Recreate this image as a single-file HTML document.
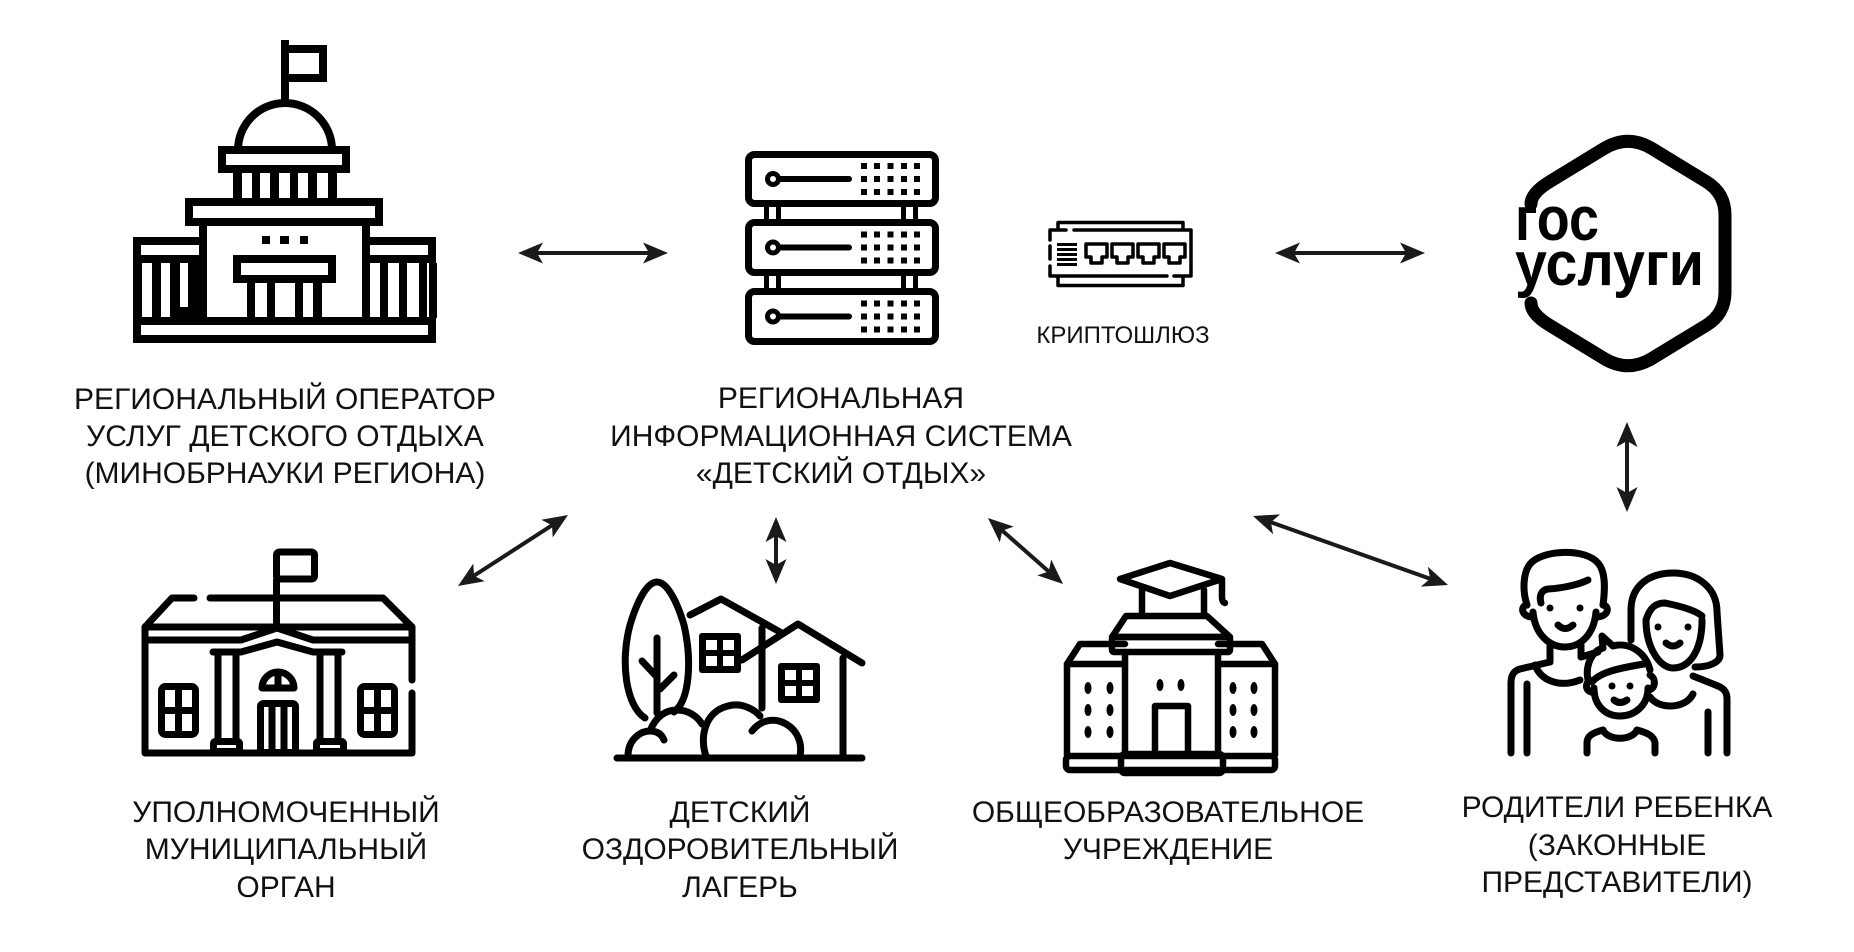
<!DOCTYPE html>
<html><head><meta charset="utf-8"><style>
html,body{margin:0;padding:0;background:#fff;}
svg{display:block;}
text{font-family:"Liberation Sans",Arial,sans-serif;fill:#111;}
</style></head><body>
<svg width="1854" height="952" viewBox="0 0 1854 952" xmlns="http://www.w3.org/2000/svg">
<rect width="1854" height="952" fill="#fff"/>

<!-- ===== Capitol (regional operator) ===== -->
<g fill="#000">
  <rect x="281" y="40" width="8" height="60"/>
  <rect x="285" y="49" width="38" height="29" fill="none" stroke="#000" stroke-width="8"/>
  <path d="M238,150 A47,47 0 0 1 332,150" fill="none" stroke="#000" stroke-width="8"/>
  <rect x="222" y="150" width="124" height="19" fill="none" stroke="#000" stroke-width="8"/>
  <rect x="233" y="173" width="9" height="25"/>
  <rect x="252" y="173" width="8" height="25"/>
  <rect x="270" y="173" width="9" height="25"/>
  <rect x="290" y="173" width="8" height="25"/>
  <rect x="308" y="173" width="9" height="25"/>
  <rect x="328" y="173" width="9" height="25"/>
  <rect x="189" y="202" width="190" height="20" fill="none" stroke="#000" stroke-width="8"/>
  <rect x="199" y="225" width="8" height="93"/>
  <rect x="362" y="225" width="8" height="93"/>
  <rect x="137" y="241" width="66" height="18" fill="none" stroke="#000" stroke-width="8"/>
  <rect x="366" y="241" width="66" height="18" fill="none" stroke="#000" stroke-width="8"/>
  <rect x="133" y="263" width="9" height="55"/>
  <rect x="152" y="263" width="9" height="55"/>
  <rect x="170" y="263" width="10" height="55"/>
  <rect x="188" y="263" width="12" height="55"/>
  <rect x="170" y="307" width="30" height="11"/>
  <rect x="380" y="263" width="8" height="55"/>
  <rect x="399" y="263" width="8" height="55"/>
  <rect x="419" y="263" width="8" height="55"/>
  <rect x="429" y="263" width="8" height="55"/>
  <rect x="137" y="321" width="295" height="18" fill="none" stroke="#000" stroke-width="8"/>
  <rect x="262" y="236" width="8" height="8"/>
  <rect x="280" y="236" width="9" height="8"/>
  <rect x="300" y="236" width="8" height="8"/>
  <rect x="237" y="259" width="95" height="20" fill="none" stroke="#000" stroke-width="8"/>
  <rect x="247" y="283" width="8" height="35"/>
  <rect x="267" y="283" width="8" height="35"/>
  <rect x="295" y="283" width="8" height="35"/>
  <rect x="313" y="283" width="9" height="35"/>
</g>

<!-- ===== Server rack ===== -->
<g stroke="#000" stroke-width="7" fill="none">
  <rect x="748.5" y="154.5" width="187" height="49" rx="6"/>
  <rect x="748.5" y="222.5" width="187" height="50" rx="6"/>
  <rect x="748.5" y="291.5" width="187" height="50" rx="6"/>
</g>
<g fill="#000">
  <rect x="764" y="206" width="5" height="14"/><rect x="776" y="206" width="5" height="14"/>
  <rect x="901" y="206" width="5" height="14"/><rect x="913" y="206" width="5" height="14"/>
  <rect x="764" y="275" width="5" height="14"/><rect x="776" y="275" width="5" height="14"/>
  <rect x="901" y="275" width="5" height="14"/><rect x="913" y="275" width="5" height="14"/>
</g>
<g stroke="#000" stroke-width="5" fill="none">
  <circle cx="773" cy="179" r="5.5"/><circle cx="773" cy="247.5" r="5.5"/><circle cx="773" cy="316.5" r="5.5"/>
</g>
<g stroke="#000" stroke-width="6" stroke-linecap="round">
  <line x1="779" y1="179" x2="849" y2="179"/>
  <line x1="779" y1="247.5" x2="849" y2="247.5"/>
  <line x1="779" y1="316.5" x2="849" y2="316.5"/>
</g>
<g fill="#000">
  <rect x="861" y="163" width="6" height="6"/><rect x="874" y="163" width="6" height="6"/><rect x="887.5" y="163" width="6" height="6"/><rect x="901" y="163" width="6" height="6"/><rect x="914" y="163" width="6" height="6"/>
  <rect x="861" y="176" width="6" height="6"/><rect x="874" y="176" width="6" height="6"/><rect x="887.5" y="176" width="6" height="6"/><rect x="901" y="176" width="6" height="6"/><rect x="914" y="176" width="6" height="6"/>
  <rect x="861" y="189" width="6" height="6"/><rect x="874" y="189" width="6" height="6"/><rect x="887.5" y="189" width="6" height="6"/><rect x="901" y="189" width="6" height="6"/><rect x="914" y="189" width="6" height="6"/>
</g>
<g fill="#000" transform="translate(0,68.5)">
  <rect x="861" y="163" width="6" height="6"/><rect x="874" y="163" width="6" height="6"/><rect x="887.5" y="163" width="6" height="6"/><rect x="901" y="163" width="6" height="6"/><rect x="914" y="163" width="6" height="6"/>
  <rect x="861" y="176" width="6" height="6"/><rect x="874" y="176" width="6" height="6"/><rect x="887.5" y="176" width="6" height="6"/><rect x="901" y="176" width="6" height="6"/><rect x="914" y="176" width="6" height="6"/>
  <rect x="861" y="189" width="6" height="6"/><rect x="874" y="189" width="6" height="6"/><rect x="887.5" y="189" width="6" height="6"/><rect x="901" y="189" width="6" height="6"/><rect x="914" y="189" width="6" height="6"/>
</g>
<g fill="#000" transform="translate(0,137.5)">
  <rect x="861" y="163" width="6" height="6"/><rect x="874" y="163" width="6" height="6"/><rect x="887.5" y="163" width="6" height="6"/><rect x="901" y="163" width="6" height="6"/><rect x="914" y="163" width="6" height="6"/>
  <rect x="861" y="176" width="6" height="6"/><rect x="874" y="176" width="6" height="6"/><rect x="887.5" y="176" width="6" height="6"/><rect x="901" y="176" width="6" height="6"/><rect x="914" y="176" width="6" height="6"/>
  <rect x="861" y="189" width="6" height="6"/><rect x="874" y="189" width="6" height="6"/><rect x="887.5" y="189" width="6" height="6"/><rect x="901" y="189" width="6" height="6"/><rect x="914" y="189" width="6" height="6"/>
</g>

<!-- ===== Crypto gateway ===== -->
<g stroke="#000" stroke-width="3.5" fill="none" stroke-linecap="round" stroke-linejoin="round">
  <path d="M1058,229 V222.5 H1183 V229"/>
  <path d="M1050,240 V230 H1066 M1074,230 H1191 V276 H1174 M1167,276 H1050 V266 M1050,259 V246"/>
  <path d="M1058,278 V285.5 H1183 V278"/>
  <path d="M1086,244 h21 v13 h-5 v6 h-11 v-6 h-5 z"/>
  <path d="M1112,244 h21 v13 h-5 v6 h-11 v-6 h-5 z"/>
  <path d="M1138,244 h21 v13 h-5 v6 h-11 v-6 h-5 z"/>
  <path d="M1164,244 h21 v13 h-5 v6 h-11 v-6 h-5 z"/>
</g>
<g fill="#000">
  <rect x="1057" y="243" width="20" height="3"/>
  <rect x="1057" y="248" width="20" height="3"/>
  <rect x="1057" y="253" width="20" height="3"/>
  <rect x="1057" y="258" width="20" height="3"/>
  <rect x="1057" y="263" width="20" height="3"/>
</g>

<!-- ===== Gosuslugi logo ===== -->
<path d="M1531,204 Q1531,193 1550,181.5 L1604,148.6 Q1628,134 1652,148.6 L1706,181.5 Q1725,193 1725,215 L1725,292 Q1725,314 1706,325.5 L1652,358.4 Q1628,373 1604,358.4 L1550,325.5 Q1531,314 1531,303" fill="none" stroke="#000" stroke-width="13" stroke-linecap="round"/>
<text x="1515" y="240" font-size="62" font-weight="bold" style="fill:#000" textLength="84" lengthAdjust="spacingAndGlyphs">гос</text>
<text x="1515" y="285" font-size="62" font-weight="bold" style="fill:#000" textLength="189" lengthAdjust="spacingAndGlyphs">услуги</text>

<!-- ===== Municipal building ===== -->
<g stroke="#000" stroke-width="7" fill="none" stroke-linecap="round" stroke-linejoin="round">
  <rect x="276.5" y="552" width="38" height="27" rx="3"/>
  <line x1="276.5" y1="580" x2="276.5" y2="627"/>
  <path d="M145,627 L172,598 L194,598"/>
  <path d="M210,598 L383,598 L412,627"/>
  <path d="M412,680 V627 H145 V753 H412 V693"/>
  <path d="M145,640 H241 L277,628 L313,640 H412"/>
  <path d="M213,652 H241 L277,642 L313,652 H342"/>
  <line x1="218" y1="654" x2="218" y2="739"/>
  <line x1="236" y1="654" x2="236" y2="739"/>
  <line x1="320" y1="654" x2="320" y2="739"/>
  <line x1="338" y1="654" x2="338" y2="739"/>
  <rect x="213.5" y="741.5" width="26" height="10" rx="2"/>
  <rect x="316.5" y="741.5" width="27" height="10" rx="2"/>
  <rect x="260.5" y="703.5" width="35" height="49" rx="3"/>
  <line x1="272" y1="706" x2="272" y2="752"/>
  <line x1="284" y1="706" x2="284" y2="752"/>
  <path d="M262,688 A16,16 0 0 1 294,688 Z"/>
  <line x1="278" y1="672" x2="278" y2="688"/>
  <rect x="161.5" y="686.5" width="34" height="48" rx="4"/>
  <line x1="178.5" y1="688" x2="178.5" y2="733"/>
  <line x1="163" y1="710.5" x2="194" y2="710.5"/>
  <rect x="360.5" y="686.5" width="34" height="48" rx="4"/>
  <line x1="377.5" y1="688" x2="377.5" y2="733"/>
  <line x1="362" y1="710.5" x2="393" y2="710.5"/>
</g>

<!-- ===== Camp ===== -->
<g stroke="#000" stroke-width="7" fill="none" stroke-linecap="round" stroke-linejoin="round">
  <path d="M645,718 C626,706 620,662 630,625 C638,598 648,582 657,582 C666,582 676,598 684,625 C692,660 690,700 674,712"/>
  <line x1="657" y1="638" x2="657" y2="713"/>
  <line x1="642" y1="661" x2="657" y2="677"/>
  <line x1="674" y1="675" x2="660" y2="689"/>
  <path d="M690,615 L721,599 L780,632"/>
  <path d="M742,660 L798,624 L862,663"/>
  <line x1="762" y1="628" x2="762" y2="708"/>
  <line x1="843" y1="658" x2="843" y2="756"/>
  <path d="M628,756 C628,740 640,731 650,731 C658,731 662,735 664,740"/>
  <path d="M650,731 C656,716 666,710 677,710 C688,710 697,716 702,724"/>
  <path d="M706,756 C700,740 703,712 728,706 C742,702 755,710 760,716"/>
  <path d="M752,731 C760,721 770,719 779,721 C795,726 803,740 800,756"/>
  <line x1="617" y1="758" x2="862" y2="758"/>
</g>
<g fill="#000">
  <rect x="699" y="633" width="42" height="40" rx="3"/>
  <rect x="778" y="663" width="42" height="40" rx="3"/>
</g>
<g fill="#fff">
  <rect x="706" y="640" width="11" height="10"/><rect x="723" y="640" width="11" height="10"/>
  <rect x="706" y="656" width="11" height="10"/><rect x="723" y="656" width="11" height="10"/>
  <rect x="785" y="670" width="11" height="10"/><rect x="802" y="670" width="11" height="10"/>
  <rect x="785" y="686" width="11" height="10"/><rect x="802" y="686" width="11" height="10"/>
</g>

<!-- ===== School ===== -->
<g stroke="#000" stroke-width="6.5" fill="none" stroke-linecap="round" stroke-linejoin="round">
  <path d="M1170,563 L1222,579 L1170,596 L1120,579 Z"/>
  <path d="M1222,580 L1222,597 Q1222,602 1225,603"/>
  <line x1="1142" y1="590" x2="1142" y2="615"/>
  <line x1="1204" y1="590" x2="1204" y2="615"/>
  <path d="M1126,616 H1207 L1230,637 H1112 Z"/>
  <rect x="1112" y="637" width="118" height="15" rx="2"/>
  <line x1="1125" y1="652" x2="1125" y2="753"/>
  <line x1="1218" y1="652" x2="1218" y2="753"/>
  <path d="M1125,644 H1080 L1067,664 V755"/>
  <line x1="1067" y1="664" x2="1125" y2="664"/>
  <path d="M1218,644 H1262 L1275,664 V755"/>
  <line x1="1218" y1="664" x2="1275" y2="664"/>
  <rect x="1066" y="756" width="209" height="14" rx="4"/>
  <rect x="1121" y="754" width="102" height="19" rx="4"/>
  <path d="M1155,752 V706 H1188 V752"/>
</g>
<g fill="#000">
  <ellipse cx="1088" cy="688" rx="3.5" ry="6"/><ellipse cx="1110" cy="688" rx="3.5" ry="6"/>
  <ellipse cx="1088" cy="710" rx="3.5" ry="6"/><ellipse cx="1110" cy="710" rx="3.5" ry="6"/>
  <ellipse cx="1088" cy="732" rx="3.5" ry="6"/><ellipse cx="1110" cy="732" rx="3.5" ry="6"/>
  <ellipse cx="1233" cy="688" rx="3.5" ry="6"/><ellipse cx="1254" cy="688" rx="3.5" ry="6"/>
  <ellipse cx="1233" cy="710" rx="3.5" ry="6"/><ellipse cx="1254" cy="710" rx="3.5" ry="6"/>
  <ellipse cx="1233" cy="732" rx="3.5" ry="6"/><ellipse cx="1254" cy="732" rx="3.5" ry="6"/>
  <ellipse cx="1160" cy="685" rx="3.5" ry="6"/><ellipse cx="1181" cy="685" rx="3.5" ry="6"/>
</g>

<!-- ===== Family ===== -->
<g stroke="#000" stroke-width="7" fill="none" stroke-linecap="round" stroke-linejoin="round">
  <path d="M1527,605 C1522,590 1523,570 1532,562 C1545,550 1585,548 1598,563 C1606,572 1605,590 1603,605"/>
  <path d="M1541,603 C1539,596 1541,590 1548,589 C1565,588 1580,584 1588,580"/>
  <path d="M1533,612 C1535,635 1550,647 1565,647 C1580,647 1594,635 1596,612"/>
  <path d="M1527,605 C1520,606 1521,617 1533,617"/>
  <path d="M1603,605 C1610,606 1609,617 1596,617"/>
  <path d="M1558,625 Q1565,632 1573,625"/>
  <path d="M1550,645 V662 L1520,669 C1513,671 1511,676 1511,683 V753"/>
  <line x1="1527" y1="684" x2="1527" y2="753"/>
  <path d="M1535,665 C1541,681 1560,688 1580,680"/>
  <path d="M1581,645 V657 L1598,652"/>
  <path d="M1631,640 V610 C1631,585 1650,573 1673,573 C1698,573 1717,588 1717,612 L1720,655 C1720,662 1710,667 1695,667"/>
  <path d="M1646,620 C1650,607 1656,603 1665,603 C1680,606 1695,610 1702,616"/>
  <path d="M1646,620 C1646,648 1660,668 1673,668 C1690,668 1702,650 1702,620"/>
  <path d="M1666,643 Q1673,649 1680,643"/>
  <path d="M1693,676 L1718,686 C1725,689 1727,693 1727,699 V753"/>
  <line x1="1708" y1="712" x2="1708" y2="753"/>
  <path d="M1650,697 C1658,709 1685,710 1693,694"/>
  <path d="M1588,680 C1585,665 1592,651 1603,648 L1602,636 L1613,646 C1627,642 1645,650 1650,670"/>
  <path d="M1592,682 C1600,672 1620,668 1644,664"/>
  <path d="M1594,688 C1594,706 1606,716 1620,716 C1634,716 1648,706 1648,688"/>
  <path d="M1590,680 C1584,684 1586,693 1594,692"/>
  <path d="M1650,675 C1657,679 1655,690 1648,690"/>
  <path d="M1614,700 Q1620,705 1627,700"/>
  <path d="M1587,753 V743 C1587,736 1592,733 1603,730"/>
  <path d="M1637,730 C1648,733 1654,736 1655,743 V753"/>
  <path d="M1603,730 C1608,741 1632,741 1637,730"/>
</g>
<g fill="#000">
  <circle cx="1550" cy="608" r="3.5"/><circle cx="1580" cy="608" r="3.5"/>
  <circle cx="1658" cy="627" r="3.5"/><circle cx="1688" cy="627" r="3.5"/>
  <circle cx="1612" cy="686" r="3.5"/><circle cx="1630" cy="686" r="3.5"/>
</g>

<!-- ===== Arrows ===== -->
<g stroke="#1a1a1a" stroke-width="4" fill="none">
  <line x1="535" y1="253" x2="651" y2="253"/>
  <line x1="1292" y1="253" x2="1408" y2="253"/>
  <line x1="1627" y1="438" x2="1627" y2="496"/>
  <line x1="776" y1="533" x2="776" y2="568"/>
  <line x1="474" y1="575.7" x2="552" y2="525.3"/>
  <line x1="1002.3" y1="530.6" x2="1048.7" y2="571.5"/>
  <line x1="1270.9" y1="522.3" x2="1430.1" y2="578.7"/>
</g>
<g fill="#1a1a1a">
  <polygon points="668,253 643,242.5 649,253 643,263.5"/>
  <polygon points="518,253 543,242.5 537,253 543,263.5"/>
  <polygon points="1425,253 1400,242.5 1406,253 1400,263.5"/>
  <polygon points="1275,253 1300,242.5 1294,253 1300,263.5"/>
  <polygon points="1627,422 1616.5,447 1627,441 1637.5,447"/>
  <polygon points="1627,512 1616.5,487 1627,493 1637.5,487"/>
  <polygon points="776,517 765.5,542 776,536 786.5,542"/>
  <polygon points="776,584 765.5,559 776,565 786.5,559"/>
  <polygon points="568,515 552.7,537.4 552.0,525.3 541.3,519.7"/>
  <polygon points="458,586 473.3,563.6 474.0,575.7 484.7,581.3"/>
  <polygon points="1063,584 1037.3,575.4 1048.7,571.5 1051.2,559.6"/>
  <polygon points="988,518 1013.7,526.6 1002.3,530.6 999.8,542.4"/>
  <polygon points="1448,585 1420.9,586.6 1430.1,578.7 1427.9,566.8"/>
  <polygon points="1253,516 1280.1,514.4 1270.9,522.3 1273.1,534.2"/>
</g>

<!-- ===== Labels ===== -->
<g font-size="30" text-anchor="middle">
  <text x="285" y="409">РЕГИОНАЛЬНЫЙ ОПЕРАТОР</text>
  <text x="285" y="446">УСЛУГ ДЕТСКОГО ОТДЫХА</text>
  <text x="285" y="483">(МИНОБРНАУКИ РЕГИОНА)</text>

  <text x="841" y="408">РЕГИОНАЛЬНАЯ</text>
  <text x="841" y="446">ИНФОРМАЦИОННАЯ СИСТЕМА</text>
  <text x="841" y="483">«ДЕТСКИЙ ОТДЫХ»</text>

  <text x="286" y="822">УПОЛНОМОЧЕННЫЙ</text>
  <text x="286" y="859">МУНИЦИПАЛЬНЫЙ</text>
  <text x="286" y="897">ОРГАН</text>

  <text x="740" y="822">ДЕТСКИЙ</text>
  <text x="740" y="859">ОЗДОРОВИТЕЛЬНЫЙ</text>
  <text x="740" y="897">ЛАГЕРЬ</text>

  <text x="1168" y="822">ОБЩЕОБРАЗОВАТЕЛЬНОЕ</text>
  <text x="1168" y="859">УЧРЕЖДЕНИЕ</text>

  <text x="1617" y="817">РОДИТЕЛИ РЕБЕНКА</text>
  <text x="1617" y="855">(ЗАКОННЫЕ</text>
  <text x="1617" y="892">ПРЕДСТАВИТЕЛИ)</text>
</g>
<text x="1123" y="343" font-size="24" text-anchor="middle">КРИПТОШЛЮЗ</text>
</svg>
</body></html>
